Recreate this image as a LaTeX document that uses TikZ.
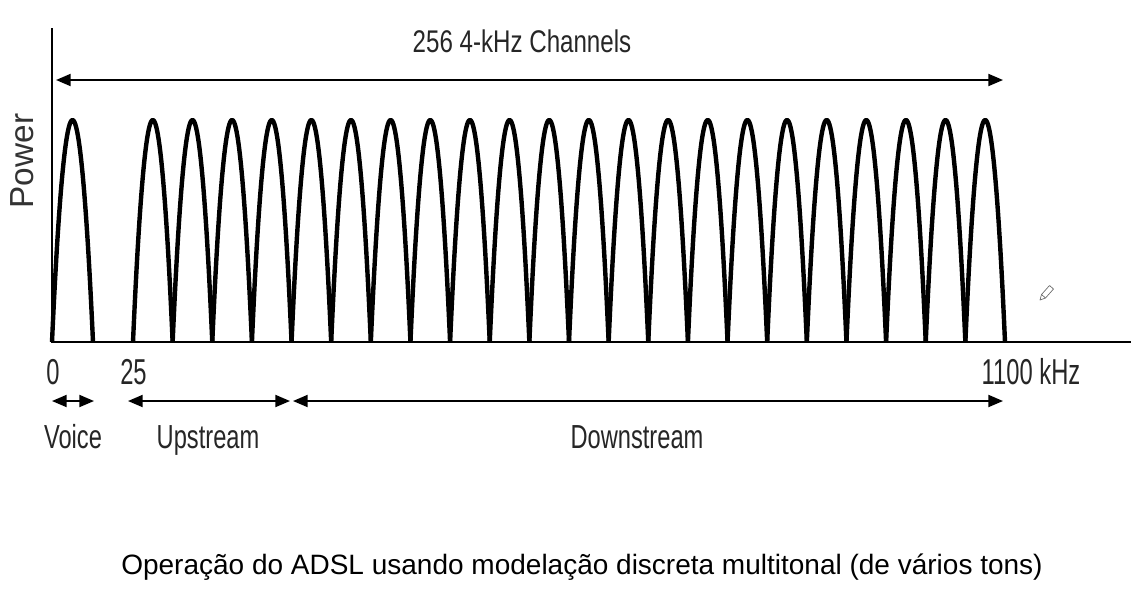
\documentclass[tikz,border=0pt]{standalone}
\usepackage{fontspec}
\setmainfont{Liberation Sans}
\newfontfamily\topfont{Liberation Sans}[FakeStretch=0.77]
\newfontfamily\tickfont{Liberation Sans}[FakeStretch=0.66]
\newfontfamily\bandfont{Liberation Sans}[FakeStretch=0.71]
\usetikzlibrary{arrows.meta}

\begin{document}
\begin{tikzpicture}[x=0.75pt, y=-0.75pt,
  axis/.style={line width=1.6pt},
  hump/.style={line width=3.3pt, line join=round},
  span/.style={line width=1.4pt, {Triangle[length=11pt,width=9pt]}-{Triangle[length=11pt,width=9pt]}},
  lbl/.style={text=black!85, anchor=base, inner sep=0pt},
  pencil/.style={draw=black!60, line width=0.5pt, line join=round}]
\useasboundingbox (0,0) rectangle (1131,593);
\coordinate (origin) at (52,342);
\coordinate (ytop) at (52,28);
\coordinate (xend) at (1131,342);
\draw[axis] (ytop) -- (origin) -- (xend);
\node[text=black!80, inner sep=0pt, font=\fontsize{25}{29}\selectfont, rotate=90] (power) at (22,161) {Power};
\draw[hump] (52,342) parabola bend (72.5,120) (93,342);
\draw[hump] (133,342) parabola bend (152.82,120) (172.64,342);
\draw[hump] (172.64,342) parabola bend (192.45,120) (212.27,342);
\draw[hump] (212.27,342) parabola bend (232.09,120) (251.91,342);
\draw[hump] (251.91,342) parabola bend (271.73,120) (291.55,342);
\draw[hump] (291.55,342) parabola bend (311.36,120) (331.18,342);
\draw[hump] (331.18,342) parabola bend (351,120) (370.82,342);
\draw[hump] (370.82,342) parabola bend (390.64,120) (410.45,342);
\draw[hump] (410.45,342) parabola bend (430.27,120) (450.09,342);
\draw[hump] (450.09,342) parabola bend (469.91,120) (489.73,342);
\draw[hump] (489.73,342) parabola bend (509.55,120) (529.36,342);
\draw[hump] (529.36,342) parabola bend (549.18,120) (569,342);
\draw[hump] (569,342) parabola bend (588.82,120) (608.64,342);
\draw[hump] (608.64,342) parabola bend (628.45,120) (648.27,342);
\draw[hump] (648.27,342) parabola bend (668.09,120) (687.91,342);
\draw[hump] (687.91,342) parabola bend (707.73,120) (727.55,342);
\draw[hump] (727.55,342) parabola bend (747.36,120) (767.18,342);
\draw[hump] (767.18,342) parabola bend (787,120) (806.82,342);
\draw[hump] (806.82,342) parabola bend (826.64,120) (846.45,342);
\draw[hump] (846.45,342) parabola bend (866.27,120) (886.09,342);
\draw[hump] (886.09,342) parabola bend (905.91,120) (925.73,342);
\draw[hump] (925.73,342) parabola bend (945.55,120) (965.36,342);
\draw[hump] (965.36,342) parabola bend (985.18,120) (1005,342);
\coordinate (chL) at (56,80);
\coordinate (chR) at (1003,80);
\draw[span] (chL) -- (chR);
\node[lbl, font=\topfont\fontsize{23.5}{28}\selectfont] (channels) at (522,52) {256 4-kHz Channels};
\node[lbl, font=\tickfont\fontsize{27}{32}\selectfont] (f0) at (53,384) {0};
\node[lbl, font=\tickfont\fontsize{27}{32}\selectfont] (f25) at (133.5,384) {25};
\node[lbl, font=\tickfont\fontsize{27}{32}\selectfont] (f1100) at (1031,384) {1100 kHz};
\coordinate (voiceL) at (52,401);
\coordinate (voiceR) at (94,401);
\coordinate (upL) at (128,401);
\coordinate (upR) at (290,401);
\coordinate (downL) at (293,401);
\coordinate (downR) at (1003,401);
\draw[span] (voiceL) -- (voiceR);
\draw[span] (upL) -- (upR);
\draw[span] (downL) -- (downR);
\node[lbl, font=\bandfont\fontsize{25}{30}\selectfont] (voice) at (73,448) {Voice};
\node[lbl, font=\bandfont\fontsize{25}{30}\selectfont] (upstream) at (208,448) {Upstream};
\node[lbl, font=\bandfont\fontsize{25}{30}\selectfont] (downstream) at (637,448) {Downstream};
\draw[pencil] (1040,300) -- (1041.5,294.5) -- (1049.5,285.5) -- (1053.5,289) -- (1045.5,298) -- cycle;
\draw[pencil] (1041.5,294.5) -- (1045.5,298);
\node[inner sep=0pt, font=\fontsize{21}{25}\selectfont] (caption) at (582,567) {Operação do ADSL usando modelação discreta multitonal (de vários tons)};
\end{tikzpicture}
\end{document}
